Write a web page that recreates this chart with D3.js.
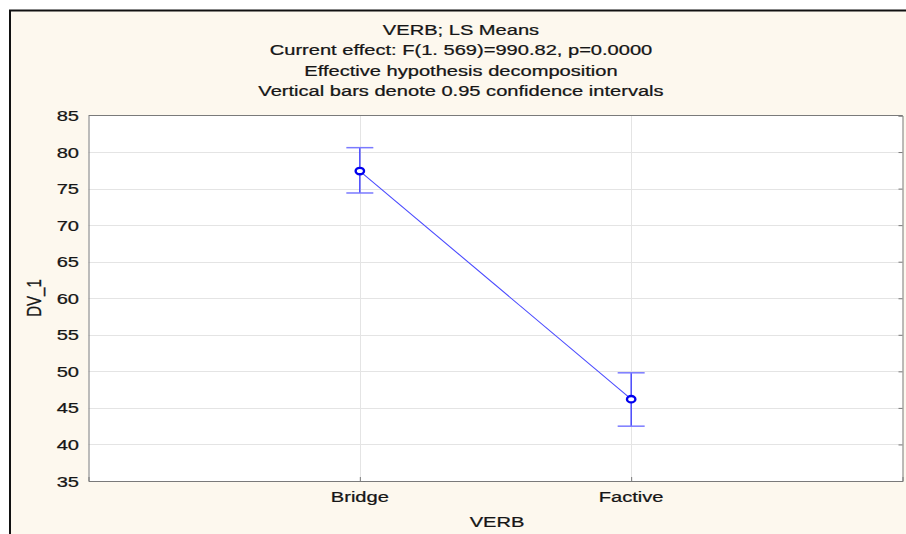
<!DOCTYPE html>
<html><head><meta charset="utf-8">
<script src="https://cdn.jsdelivr.net/npm/d3@7"></script>
<style>body{margin:0;background:#fff;} svg{display:block;}</style>
</head><body>
<script>
const categories = ["Bridge", "Factive"];
const means = [77.4, 46.2];
const upperCI = [80.6, 49.8];
const lowerCI = [74.4, 42.5];
const yTicks = [35, 40, 45, 50, 55, 60, 65, 70, 75, 80, 85];
const titleLines = ["VERB; LS Means", "Current effect: F(1. 569)=990.82, p=0.0000", "Effective hypothesis decomposition", "Vertical bars denote 0.95 confidence intervals"];

const W = 906, H = 534;
const SX = 1.34; // horizontal stretch of the reference image
const svg = d3.select("body").append("svg").attr("width", W).attr("height", H);
const font = "'Liberation Sans', Arial, sans-serif";

function label(parent, px, py, txt, anchor, extra) {
  const g = parent.append("g").attr("transform", `translate(${px},${py}) scale(${SX},1)` + (extra || ""));
  g.append("text").attr("x", 0).attr("y", 0).attr("text-anchor", anchor)
    .attr("font-family", font).attr("font-size", 15).attr("fill", "#161616")
    .attr("stroke", "#161616").attr("stroke-width", 0.25).text(txt);
  return g;
}

// panel background and frame
svg.append("rect").attr("x", 10).attr("y", 10).attr("width", W - 10).attr("height", H - 10).attr("fill", "#fdf8ee");
svg.append("path").attr("d", `M10,${H} V10.5 H${W}`).attr("fill", "none").attr("stroke", "#111").attr("stroke-width", 2);

const m = {left: 88.5, right: 902.5, top: 115.5, bottom: 481};
const x = d3.scalePoint().domain(categories).range([m.left, m.right]).padding(1);
const y = d3.scaleLinear().domain([35, 85]).range([m.bottom, m.top]);

// plot area
svg.append("rect").attr("x", m.left).attr("y", m.top).attr("width", m.right - m.left).attr("height", m.bottom - m.top).attr("fill", "#fff");

// horizontal grid
svg.append("g").selectAll("line").data(yTicks.filter(d => d > 35 && d < 85)).join("line")
  .attr("x1", m.left).attr("x2", m.right).attr("y1", d => Math.round(y(d)) + 0.5).attr("y2", d => Math.round(y(d)) + 0.5)
  .attr("stroke", "#e4e4e4").attr("stroke-width", 1);
// vertical grid
svg.append("g").selectAll("line").data(categories).join("line")
  .attr("x1", d => Math.round(x(d)) + 0.5).attr("x2", d => Math.round(x(d)) + 0.5).attr("y1", m.top).attr("y2", m.bottom)
  .attr("stroke", "#e4e4e4").attr("stroke-width", 1);

// axes
const yAxis = svg.append("g").attr("transform", `translate(${m.left},0)`)
  .call(d3.axisLeft(y).tickValues(yTicks).tickSize(0).tickFormat(""));
yAxis.select(".domain").attr("stroke", "#7a7a7a");
const yLab = svg.append("g");
yTicks.forEach(t => label(yLab, 79, y(t) + 5.5, String(t), "end"));

const yAxisR = svg.append("g").attr("transform", `translate(${m.right},0)`)
  .call(d3.axisLeft(y).tickValues(yTicks).tickSize(4).tickFormat(""));
yAxisR.select(".domain").attr("stroke", "#7a7a7a");
yAxisR.selectAll(".tick line").attr("stroke", "#7a7a7a");

const xAxis = svg.append("g").attr("transform", `translate(0,${m.bottom})`)
  .call(d3.axisTop(x).tickSize(4).tickFormat(""));
xAxis.select(".domain").attr("stroke", "#7a7a7a");
xAxis.selectAll(".tick line").attr("stroke", "#7a7a7a");
const xLab = svg.append("g");
categories.forEach(c => label(xLab, x(c), 502, c, "middle"));

svg.append("line").attr("x1", m.left).attr("x2", m.right).attr("y1", m.top).attr("y2", m.top).attr("stroke", "#7a7a7a");

// axis titles
label(svg, 497, 527, "VERB", "middle");
label(svg, 41, 298, "DV_1", "middle", " rotate(-90)");

// title
const tg = svg.append("g");
titleLines.forEach((t, i) => label(tg, 461, 35 + i * 20.3, t, "middle"));

// data
const pts = categories.map((c, i) => ({c, m: means[i], u: upperCI[i], l: lowerCI[i]}));
svg.append("path").datum(pts)
  .attr("d", d3.line().x(d => x(d.c)).y(d => y(d.m)))
  .attr("fill", "none").attr("stroke", "#4a4aff").attr("stroke-width", 1.1);
const eb = svg.append("g").selectAll("g").data(pts).join("g");
eb.append("line").attr("x1", d => x(d.c)).attr("x2", d => x(d.c)).attr("y1", d => y(d.u)).attr("y2", d => y(d.l))
  .attr("stroke", "#3030ff").attr("stroke-width", 1.3);
eb.append("line").attr("x1", d => x(d.c) - 13.5).attr("x2", d => x(d.c) + 13.5).attr("y1", d => y(d.u)).attr("y2", d => y(d.u))
  .attr("stroke", "#7a7aff").attr("stroke-width", 1.5);
eb.append("line").attr("x1", d => x(d.c) - 13.5).attr("x2", d => x(d.c) + 13.5).attr("y1", d => y(d.l)).attr("y2", d => y(d.l))
  .attr("stroke", "#7a7aff").attr("stroke-width", 1.5);
eb.append("ellipse").attr("cx", d => x(d.c)).attr("cy", d => y(d.m)).attr("rx", 4.2).attr("ry", 3.2)
  .attr("fill", "#fff").attr("stroke", "#0000ee").attr("stroke-width", 2.4);
</script>
</body></html>
